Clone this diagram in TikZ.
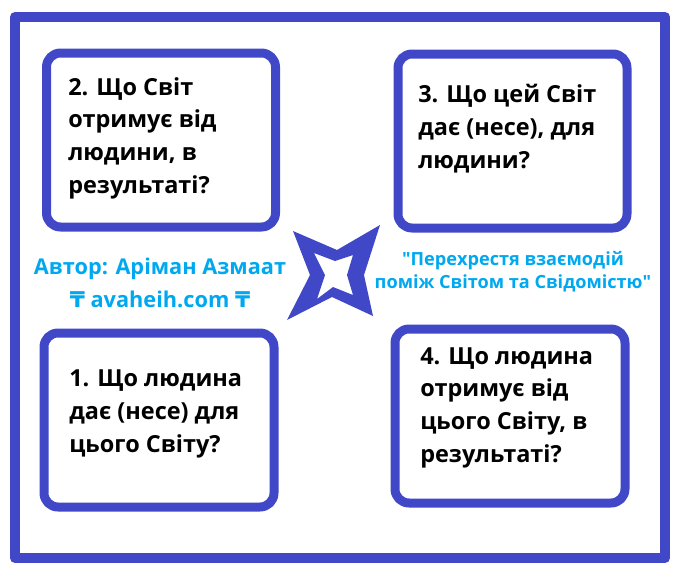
\documentclass[tikz,border=0pt]{standalone}
\usepackage{fontspec}
\setmainfont{Open Sans}
\newfontfamily\signfont{DejaVu Sans}
\definecolor{frameblue}{RGB}{65,72,200}
\definecolor{skyblue}{RGB}{0,168,240}
\begin{document}
\begin{tikzpicture}[x=0.75pt, y=-0.75pt, line join=round,
	qbox/.style={draw=frameblue, line width=6.75pt, rounded corners=10.5pt, fill=white},
	qtext/.style={anchor=base west, align=left, inner sep=0pt, font=\fontsize{17.6}{24.4}\selectfont\bfseries},
	note/.style={anchor=base, align=center, inner sep=0pt, text=skyblue}]
			\useasboundingbox (0,0) rectangle (683,586);
			\draw[frameblue, line width=7.5pt] (15,17) rectangle (665,558);
			\draw[qbox] (46.5,53) rectangle (275.5,227);
			\draw[qbox] (398,54) rectangle (627,228);
			\draw[qbox] (44,333) rectangle (274,507);
			\draw[qbox] (395,329) rectangle (625,503);
			\node[qtext] (Q2) at (68,193) {2. Що Світ\\отримує від\\людини, в\\результаті?};
			\node[qtext] (Q3) at (418,168) {3. Що цей Світ\\дає (несе), для\\людини?};
			\node[qtext] (Q1) at (69,452) {1. Що людина\\дає (несе) для\\цього Світу?};
			\node[qtext] (Q4) at (420,462) {4. Що людина\\отримує від\\цього Світу, в\\результаті?};
			\fill[frameblue, even odd rule] (293,231) -- (337,250) -- (380,225) -- (364,275) -- (373,316) -- (332,297) -- (287,320) -- (310,275) -- cycle
				(314,253) -- (335,261) -- (353,255) -- (347,275) -- (353,295) -- (333,287) -- (317,299) -- (325,275) -- cycle;
			\node[note, font=\fontsize{16.3}{24.75}\selectfont\bfseries] (author) at (160,307) {Автор: Аріман Азмаат\\{\signfont ₸} avaheih.com {\signfont ₸}};
			\node[note, font=\fontsize{13.6}{17.25}\selectfont\bfseries] (title) at (513,288) {\textquotedbl Перехрестя взаємодій\\поміж Світом та Свідомістю\textquotedbl};
		\end{tikzpicture}
\end{document}
